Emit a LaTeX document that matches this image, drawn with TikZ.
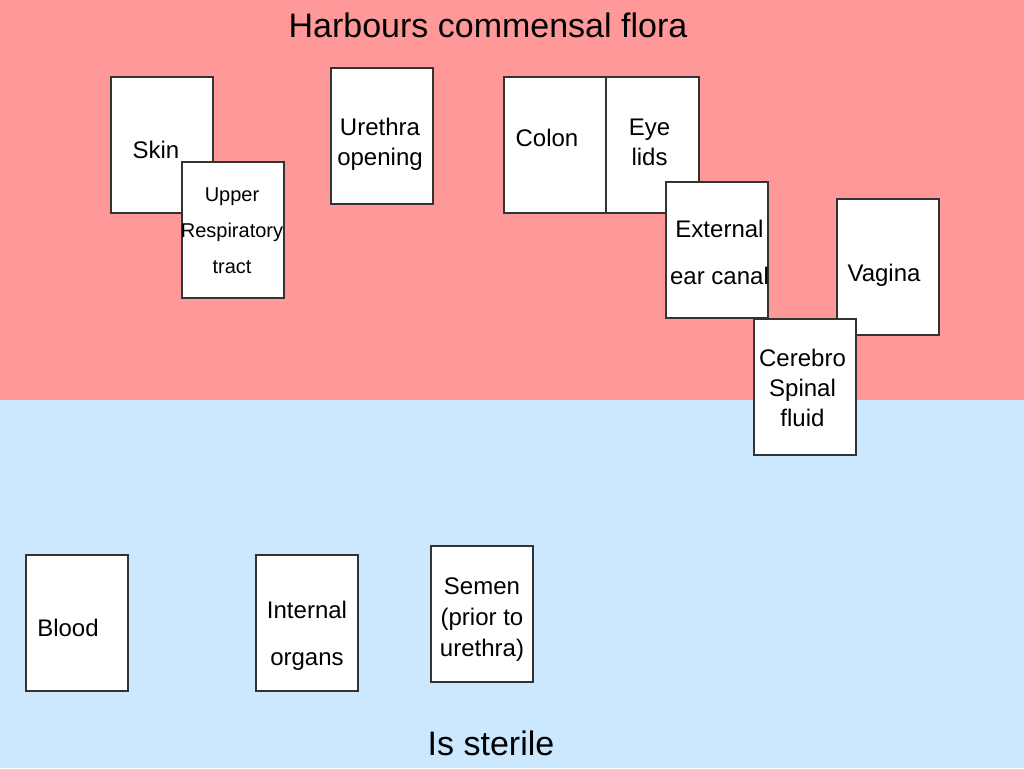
\documentclass[tikz,border=0pt]{standalone}
\usepackage{fontspec}
\setmainfont{Liberation Sans}
\usepackage{tikz}
\usetikzlibrary{positioning}
\definecolor{florared}{RGB}{255,153,153}
\definecolor{sterileblue}{RGB}{204,232,255}
\tikzset{
  card/.style={draw=black!80, line width=1.4pt, fill=white, minimum width=102pt, minimum height=136pt, inner sep=0pt},
  cardtext/.style={align=center, inner sep=0pt, font=\fontsize{24}{30}\selectfont},
  widetext/.style={align=center, inner sep=0pt, font=\fontsize{24}{47}\selectfont},
  smalltext/.style={align=center, inner sep=0pt, font=\fontsize{20}{36}\selectfont},
  zonelabel/.style={inner sep=0pt, font=\fontsize{34}{40}\selectfont}
}
\begin{document}
\begin{tikzpicture}[x=1pt, y=-1pt]
      \useasboundingbox (0,0) rectangle (1024,768);
      \fill[florared] (0,0) rectangle (1024,400);
      \fill[sterileblue] (0,400) rectangle (1024,768);
      \node[zonelabel] (flora) at (488,25) {Harbours commensal flora};
      \node[zonelabel] (sterile) at (491,743) {Is sterile};
      \node[card] (skin) at (162,145) {};
      \node[cardtext] (skinT) at (156,150) {Skin};
      \node[card] (upper) at (233,230) {};
      \node[smalltext] (upperT) at (232,231) {Upper\\Respiratory\\tract};
      \node[card] (urethra) at (382,136) {};
      \node[cardtext] (urethraT) at (380,144) {Urethra\\opening};
      \node[card] (eyelids) at (648,145) {};
      \node[cardtext] (eyelidsT) at (649.5,142.5) {Eye\\lids};
      \node[card] (colon) at (555,145) {};
      \node[cardtext] (colonT) at (547,137.5) {Colon};
      \node[card] (ear) at (717,250) {};
      \node[widetext] (earT) at (719.5,252.5) {External\\ear canal};
      \node[card] (vagina) at (888,267) {};
      \node[cardtext] (vaginaT) at (884,275) {Vagina};
      \node[card] (csf) at (805,387) {};
      \node[cardtext] (csfT) at (802.5,388) {Cerebro\\Spinal\\fluid};
      \node[card] (blood) at (77,623) {};
      \node[cardtext] (bloodT) at (68,627.5) {Blood};
      \node[card] (organs) at (307,623) {};
      \node[widetext] (organsT) at (307,636) {Internal\\organs};
      \node[card] (semen) at (482,614) {};
      \node[cardtext, font=\fontsize{24}{31}\selectfont] (semenT) at (482,620) {Semen\\(prior to\\urethra)};
    \end{tikzpicture}
\end{document}
